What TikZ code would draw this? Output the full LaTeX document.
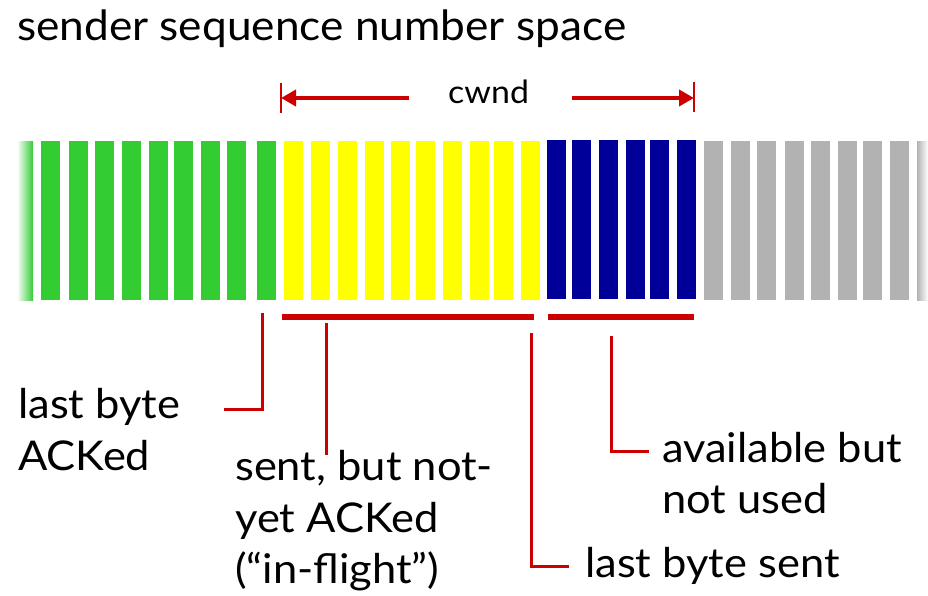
\documentclass[tikz,border=0pt]{standalone}
\usepackage{fontspec}
\setmainfont{Lato}[FakeStretch=1.06]
\usetikzlibrary{arrows.meta}
\definecolor{sgreen}{RGB}{51,204,51}
\definecolor{syellow}{RGB}{255,255,0}
\definecolor{sblue}{RGB}{0,0,153}
\definecolor{sgray}{RGB}{178,178,178}
\definecolor{sred}{RGB}{204,0,0}
\begin{document}
\begin{tikzpicture}[x=1pt,y=-1pt,
  lbl/.style={anchor=base west,inner sep=0pt,font=\fontsize{41}{52}\selectfont},
  ttl/.style={anchor=base west,inner sep=0pt,font=\fontsize{41.7}{48}\selectfont},
  smalllbl/.style={anchor=base west,inner sep=0pt,font=\fontsize{32}{40}\selectfont},
  bar/.style={line width=5.3pt,sred},
  conn/.style={line width=3pt,sred},
  tick/.style={line width=1.6pt,sred},
  cwarrow/.style={line width=4.5pt,sred,-{Triangle[length=15pt,width=16pt]}}]
\useasboundingbox (0,0) rectangle (928,595);
% stripes
\shade[left color=white,right color=sgreen] (17,141) rectangle (33,300);
\foreach \x in {41,69,95,122,149,174,201,227,257}
  \fill[sgreen] (\x,141) rectangle ++(19,159);
\foreach \x in {284,311,338,365,391,416,443,470,494,521}
  \fill[syellow] (\x,141) rectangle ++(19,159);
\foreach \x in {547,572,599,626,650,677}
  \fill[sblue] (\x,140) rectangle ++(19,159);
\foreach \x in {704,731,757,785,811,838,863,890}
  \fill[sgray] (\x,141) rectangle ++(19,159);
\shade[left color=sgray,right color=white] (917,141) rectangle (928,300);
% texts
\node[ttl] (title) at (17,40) {sender sequence number space};
\node[smalllbl] (cwnd) at (448,103) {cwnd};
\node[lbl] (ack1) at (18,418) {last byte};
\node[lbl] (ack2) at (18,470) {ACKed};
\node[lbl] (fl1) at (235,480) {sent, but not-};
\node[lbl] (fl2) at (235,532) {yet ACKed};
\node[lbl] (fl3) at (235,583) {(“in-flight”)};
\node[lbl] (av1) at (662,462) {available but};
\node[lbl] (av2) at (662,513) {not used};
\node[lbl] (ls) at (585,577) {last byte sent};
% cwnd arrow
\coordinate (cwLt) at (281,83); \coordinate (cwLb) at (281,113);
\coordinate (cwRt) at (694,82); \coordinate (cwRb) at (694,112);
\coordinate (cwLs) at (409,98); \coordinate (cwLe) at (281,98);
\coordinate (cwRs) at (572,98); \coordinate (cwRe) at (694,98);
\draw[tick] (cwLt) -- (cwLb);
\draw[tick] (cwRt) -- (cwRb);
\draw[cwarrow] (cwLs) -- (cwLe);
\draw[cwarrow] (cwRs) -- (cwRe);
% underlines
\coordinate (u1a) at (282,317); \coordinate (u1b) at (534,317);
\coordinate (u2a) at (548,317); \coordinate (u2b) at (694,317);
\draw[bar] (u1a) -- (u1b);
\draw[bar] (u2a) -- (u2b);
% connectors
\coordinate (c1a) at (262,313); \coordinate (c1b) at (262,409); \coordinate (c1c) at (224,409);
\draw[conn] (c1a) -- (c1b) -- (c1c);
\coordinate (c2a) at (326,323); \coordinate (c2b) at (326,455);
\draw[conn] (c2a) -- (c2b);
\coordinate (c3a) at (531,333); \coordinate (c3b) at (531,566); \coordinate (c3c) at (569,566);
\draw[conn] (c3a) -- (c3b) -- (c3c);
\coordinate (c4a) at (611,336); \coordinate (c4b) at (611,451); \coordinate (c4c) at (649,451);
\draw[conn] (c4a) -- (c4b) -- (c4c);
\end{tikzpicture}
\end{document}
